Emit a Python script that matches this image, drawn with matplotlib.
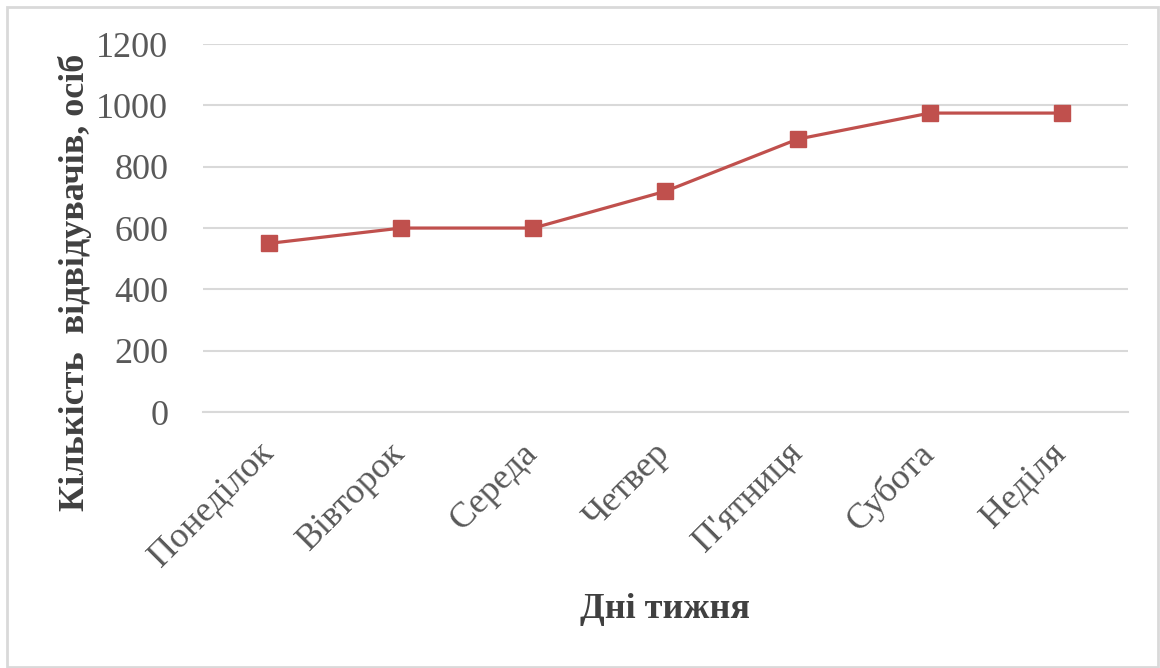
import matplotlib
matplotlib.use("Agg")
import matplotlib.pyplot as plt
from matplotlib.patches import Rectangle
from matplotlib.transforms import ScaledTranslation

days = ["Понеділок", "Вівторок", "Середа", "Четвер", "П'ятниця", "Субота", "Неділя"]
visitors = [550, 600, 600, 720, 890, 975, 975]
yticks = [0, 200, 400, 600, 800, 1000, 1200]

plt.rcParams["font.family"] = ["Liberation Serif", "DejaVu Serif"]

fig = plt.figure(figsize=(11.6, 6.68), dpi=100)
ax = fig.add_axes([0.175, 0.3832, 0.9724 - 0.175, 0.934 - 0.3832])

x = list(range(len(days)))
ax.plot(x, visitors, color="#c0504d", linewidth=2.3, marker="s",
        markersize=11.5, zorder=3)

ax.set_xlim(-0.5, len(days) - 0.5)
ax.set_ylim(0, 1200)
ax.set_yticks(yticks)
ax.set_yticklabels([str(t) for t in yticks], fontsize=26, color="#595959")
ax.set_xticks(x)
ax.set_xticklabels(days, fontsize=26, color="#595959", rotation=45,
                   ha="right", rotation_mode="anchor")
ax.tick_params(axis="both", length=0)
ax.tick_params(axis="y", pad=25)
ax.tick_params(axis="x", pad=18)
# nudge rotated labels left, like the original
shift = ScaledTranslation(-12 / 100, 0, fig.dpi_scale_trans)
for lbl in ax.get_xticklabels():
    lbl.set_transform(lbl.get_transform() + shift)

ax.grid(axis="y", color="#d9d9d9", linewidth=1.5)
ax.set_axisbelow(True)
for s in ["top", "right", "left"]:
    ax.spines[s].set_visible(False)
ax.spines["bottom"].set_color("#d9d9d9")
ax.spines["bottom"].set_linewidth(1.5)

fig.text(0.065, 0.578, "Кількість  відвідувачів, осіб", rotation=90,
         ha="center", va="center", fontsize=26, fontweight="bold",
         color="#404040")
fig.text(0.573, 0.087, "Дні тижня", ha="center", va="center",
         fontsize=26, fontweight="bold", color="#404040")

fig.patches.append(Rectangle((7 / 1160, 1 / 668), 1151 / 1160, 660 / 668,
                             transform=fig.transFigure, fill=False,
                             edgecolor="#d9d9d9", linewidth=2))

fig.savefig("out.png", dpi=100)
